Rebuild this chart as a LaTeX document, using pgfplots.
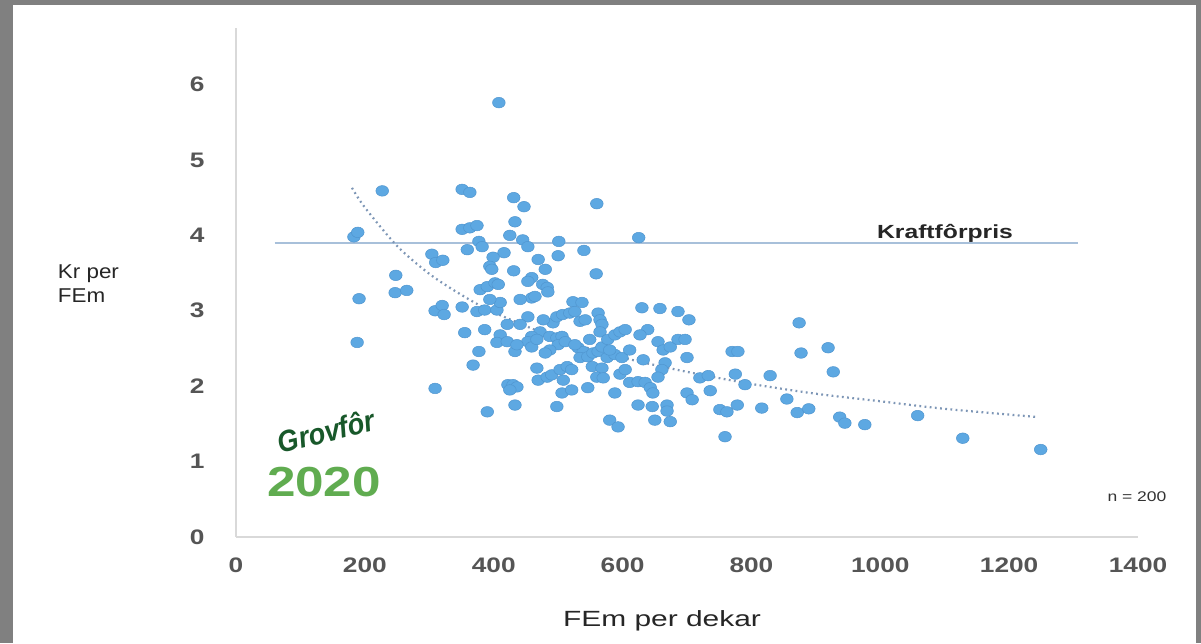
\documentclass[border=0pt]{standalone}
\usepackage{fontspec}
\setmainfont{Liberation Sans}
\usepackage{pgfplots}
\pgfplotsset{compat=1.18}
\definecolor{bggray}{RGB}{128,128,128}
\definecolor{axgray}{RGB}{217,217,217}
\definecolor{ticgray}{RGB}{85,85,85}
\definecolor{dotfill}{RGB}{93,168,226}
\definecolor{dotedge}{RGB}{80,150,208}
\definecolor{kraft}{RGB}{168,192,218}
\definecolor{trend}{RGB}{125,150,182}
\definecolor{logodark}{RGB}{24,88,42}
\definecolor{logogreen}{RGB}{96,172,80}
\pgfplotstableread{
x y
183 3.98
189 4.04
191 3.16
188 2.58
227 4.59
248 3.47
247 3.24
265 3.27
304 3.75
310 3.64
321 3.67
309 1.97
309 3.00
320 3.07
323 2.95
408 5.76
351 4.61
363 4.57
431 4.50
447 4.38
560 4.42
433 4.18
351 4.08
363 4.10
374 4.13
425 4.00
445 3.94
453 3.85
501 3.92
625 3.97
377 3.92
382 3.85
359 3.81
416 3.77
399 3.71
394 3.59
500 3.73
540 3.80
469 3.68
480 3.55
431 3.53
559 3.49
459 3.44
453 3.39
379 3.28
390 3.32
402 3.37
407 3.35
476 3.35
483 3.31
484 3.25
459 3.17
464 3.19
523 3.12
537 3.11
351 3.05
374 2.99
386 3.01
405 3.01
410 3.11
453 2.92
534 2.86
562 2.97
565 2.88
492 2.84
498 2.92
507 2.95
518 2.97
526 2.99
421 2.82
630 3.04
658 3.03
686 2.99
703 2.88
639 2.75
410 2.68
472 2.72
459 2.66
453 2.59
459 2.52
355 2.71
377 2.46
368 2.28
405 2.58
421 2.59
433 2.46
436 2.55
467 2.62
467 2.24
469 2.08
422 2.02
430 2.02
436 1.99
425 1.95
433 1.75
390 1.66
397 3.55
568 2.82
565 2.72
487 2.66
498 2.64
506 2.66
500 2.55
487 2.48
480 2.44
483 2.12
490 2.15
503 2.22
514 2.26
521 2.22
508 2.08
531 2.51
539 2.46
534 2.38
546 2.39
554 2.44
562 2.46
568 2.52
577 2.62
588 2.68
596 2.72
604 2.75
576 2.38
588 2.42
599 2.38
553 2.26
568 2.24
560 2.12
570 2.11
506 1.91
521 1.95
498 1.73
546 1.98
588 1.91
596 2.16
611 2.05
624 2.06
635 2.05
643 1.98
647 1.91
632 2.35
655 2.59
663 2.48
674 2.52
686 2.62
697 2.62
666 2.31
661 2.22
655 2.12
700 2.38
624 1.75
646 1.73
669 1.75
669 1.67
650 1.55
674 1.53
580 1.55
593 1.46
700 1.91
708 1.82
720 2.11
733 2.14
736 1.94
770 2.46
779 2.46
775 2.16
790 2.02
751 1.69
762 1.66
778 1.75
816 1.71
759 1.33
829 2.14
855 1.83
871 1.65
889 1.70
874 2.84
877 2.44
919 2.51
927 2.19
937 1.59
945 1.51
976 1.49
1058 1.61
1128 1.31
1249 1.16
511 2.59
526 2.55
549 2.62
477 2.88
441 3.15
580 2.48
611 2.48
627 2.68
441 2.82
386 2.75
604 2.22
542 2.88
394 3.15
}\pts
\begin{document}
\begin{tikzpicture}[x=1pt,y=1pt]
\fill[bggray] (0,0) rectangle (1201,643);
\fill[white] (13,0) rectangle (1196,638);
\begin{axis}[
  at={(236pt,106pt)}, anchor=south west,
  width=902pt, height=509pt, scale only axis,
  xmin=0, xmax=1400, ymin=0, ymax=6.75,
  axis lines*=left,
  axis line style={draw=axgray, line width=1.6pt},
  xtick={0,200,...,1400}, ytick={0,1,...,6},
  major tick length=0pt, tick style={draw=none},
  /pgf/number format/assume math mode=true,
  /pgf/number format/1000 sep={},
  tick label style={font=\fontsize{21}{21}\selectfont\bfseries, text=ticgray, xscale=1.25},
  xticklabel style={anchor=center, yshift=-28pt},
  yticklabel style={anchor=center, xshift=-31pt},
  clip=false,
]
\addplot[kraft, line width=2pt] coordinates {(60,3.9) (1307,3.9)};
\addplot[only marks, mark=*, mark size=5.3pt,
  mark options={fill=dotfill, draw=dotedge, line width=0.5pt, xscale=1.2}] table {\pts};
\addplot[trend, line width=2.2pt, dash pattern=on 1.8pt off 3.4pt, smooth] coordinates {
(180,4.63) (200,4.37) (250,3.86) (300,3.49) (350,3.21) (400,2.98) (500,2.63) (600,2.38)
(700,2.19) (800,2.03) (900,1.90) (1000,1.80) (1100,1.70) (1245,1.59)};
\end{axis}
\node[font=\fontsize{19}{19}\selectfont\bfseries, text=black!85, xscale=1.3] at (945,410) {Kraftfôrpris};
\node[font=\fontsize{14}{14}\selectfont, text=black!80, xscale=1.25] at (1137,146) {n = 200};
\node[font=\fontsize{22}{22}\selectfont, text=black!85, xscale=1.36] at (662,22) {FEm per dekar};
\node[font=\fontsize{20}{24}\selectfont, text=black!85, align=left, anchor=west, xscale=1.12] at (54,359) {Kr per\\FEm};
\node[font=\fontsize{30}{30}\selectfont\bfseries\itshape, text=logodark, rotate=14, xscale=0.9, inner sep=1pt] at (326,212) {Grovfôr};
\node[font=\fontsize{42}{42}\selectfont\bfseries, text=logogreen, xscale=1.22, inner sep=1pt] at (324,161) {2020};
\end{tikzpicture}
\end{document}
